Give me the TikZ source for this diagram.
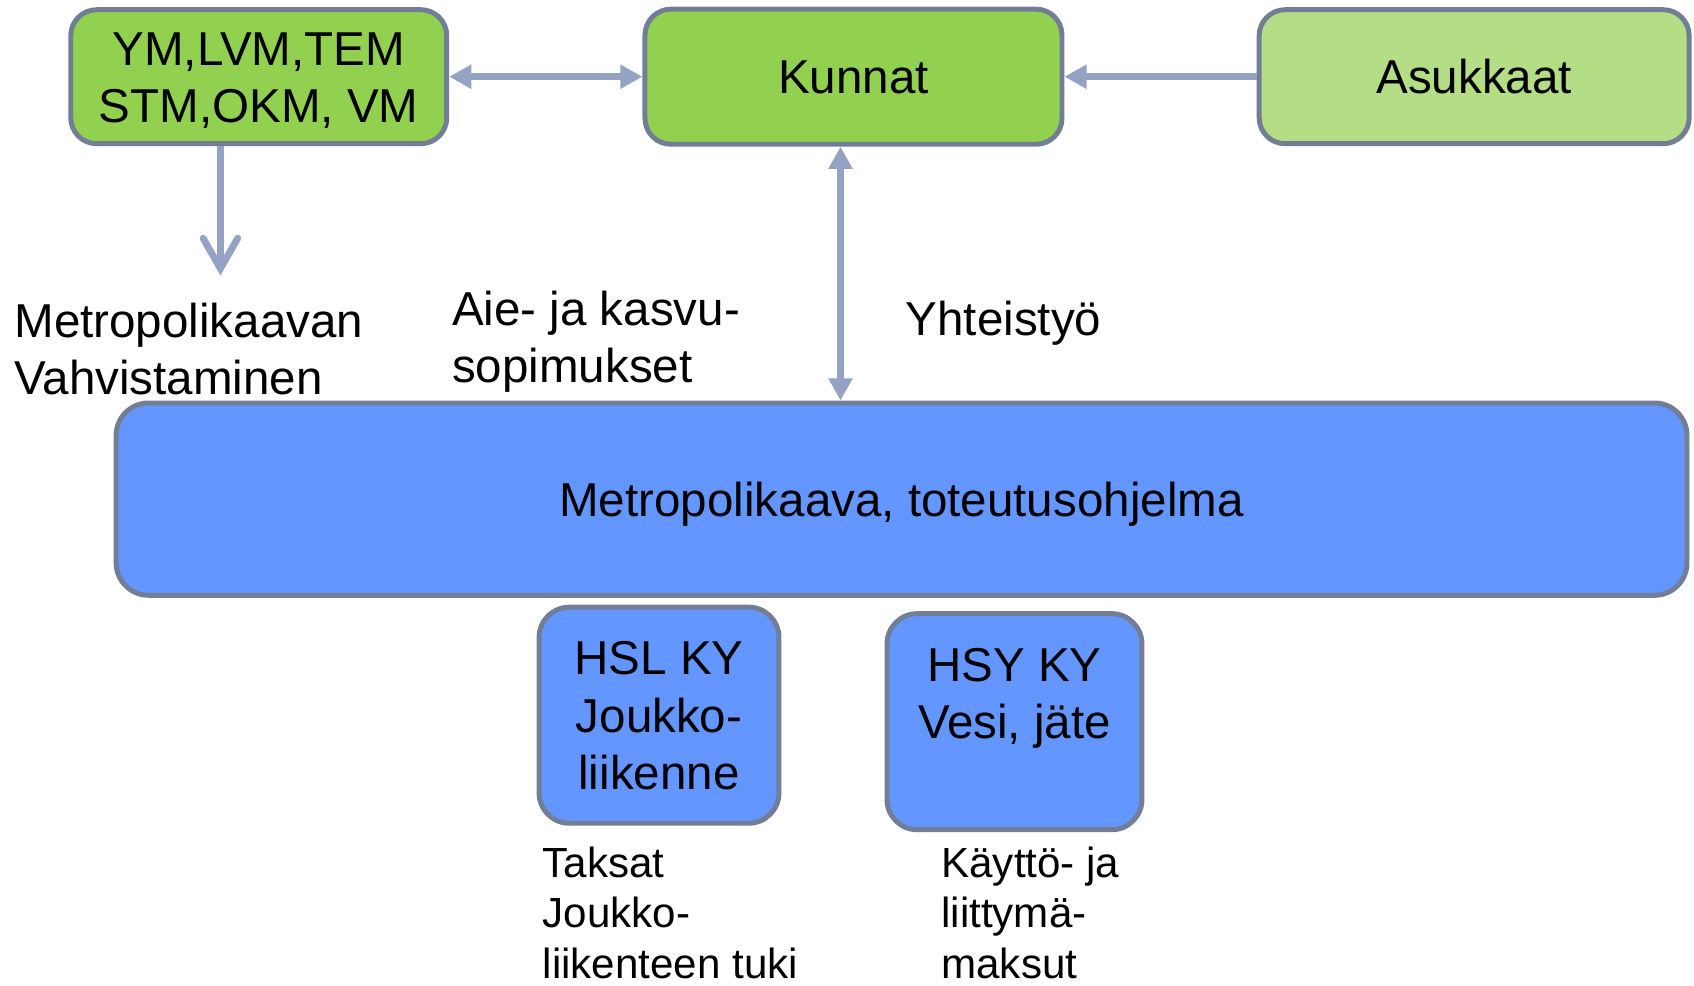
\documentclass[tikz,border=0pt]{standalone}
\usepackage{fontspec}
\setmainfont{Liberation Sans}
\usetikzlibrary{arrows.meta}
\definecolor{bordc}{HTML}{717E96}
\definecolor{arrc}{HTML}{94A3C4}
\definecolor{gA}{HTML}{92D050}
\definecolor{gB}{HTML}{B3DE86}
\definecolor{bA}{HTML}{6496FF}
\newcommand{\lowr}[2]{\raisebox{-#1}[\height][\depth]{#2}}
\tikzset{
  box/.style={draw=bordc, line width=2.3pt, rounded corners=12pt, inner sep=0pt, align=center,
    font=\fontsize{22}{26.5}\selectfont},
  lbl/.style={inner sep=0pt, align=left, anchor=west, font=\fontsize{22}{26.5}\selectfont},
  slbl/.style={inner sep=0pt, align=left, anchor=west, font=\fontsize{19.5}{23.5}\selectfont},
  conn/.style={draw=arrc, line width=3.2pt},
  tri/.style={-{Triangle[length=10.2pt,width=10.6pt]}},
  ditri/.style={{Triangle[length=10.2pt,width=10.6pt]}-{Triangle[length=10.2pt,width=10.6pt]}},
}
\begin{document}
\begin{tikzpicture}[x=0.5pt,y=-0.5pt]
\useasboundingbox[fill=white] (0,0) rectangle (1568,912);
\node[box, fill=gA, minimum width=174pt, minimum height=62pt] (ym) at (239.5,71) {\lowr{2.75pt}{\begin{tabular}{@{}c@{}}YM,LVM,TEM\\STM,OKM, VM\end{tabular}}};
\node[box, fill=gA, minimum width=193pt, minimum height=62.5pt] (kunnat) at (790,71) {\lowr{0.5pt}{Kunnat}};
\node[box, fill=gB, minimum width=199pt, minimum height=62pt] (asuk) at (1364.5,71) {Asukkaat};
\node[box, fill=bA, minimum width=727pt, minimum height=89pt, rounded corners=15pt] (big) at (834.5,462) {\lowr{2.5pt}{Metropolikaava, toteutusohjelma}};
\node[box, fill=bA, minimum width=111pt, minimum height=100pt, rounded corners=14pt] (hsl) at (610,662) {\lowr{2.5pt}{\begin{tabular}{@{}c@{}}HSL KY\\Joukko-\\liikenne\end{tabular}}};
\node[box, fill=bA, minimum width=118pt, minimum height=100pt, rounded corners=14pt] (hsy) at (939,668) {HSY KY\\Vesi, jäte\\\mbox{}};
\node[lbl] (vahv) at (13,323) {Metropolikaavan\\Vahvistaminen};
\node[lbl] (aie) at (418,316) {Aie- ja kasvu-\\sopimukset};
\node[lbl] (yht) at (838,299.5) {Yhteistyö};
\node[slbl] (taks) at (502,845) {Taksat\\Joukko-\\liikenteen tuki};
\node[slbl] (kay) at (871,845) {Käyttö- ja\\liittymä-\\maksut};
\coordinate (downend) at (204,255);
\draw[conn, ditri] (ym.east) -- (kunnat.west);
\draw[conn, tri] (asuk.west) -- (kunnat.east);
\draw[conn, -{Straight Barb[length=14pt,width=16pt,line cap=round]}] (ym.south -| downend) -- (downend);
\draw[conn, ditri] (kunnat.south -| 778,0) -- (big.north -| 778,0);
\end{tikzpicture}
\end{document}
